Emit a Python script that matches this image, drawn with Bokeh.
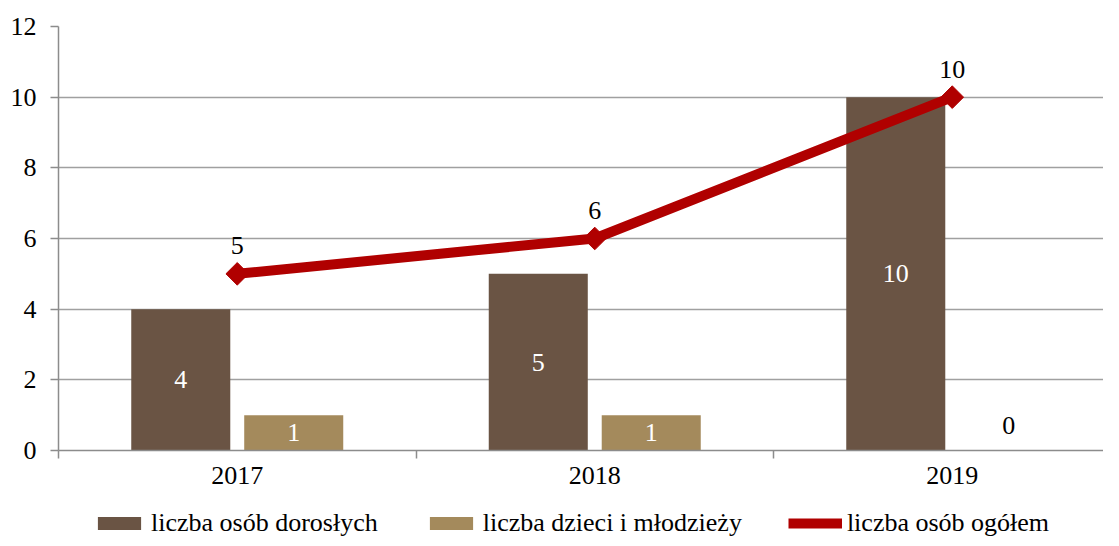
from bokeh.plotting import figure
from bokeh.layouts import column
from bokeh.models import ColumnDataSource, Range1d, FixedTicker, LabelSet, Legend, LegendItem
from bokeh.transform import dodge
from bokeh.embed import file_html
from bokeh.resources import INLINE
import numpy as np

years = ["2017", "2018", "2019"]
adults = [4, 5, 10]
children = [1, 1, 0]
total = [5, 6, 10]
series_names = ["liczba osób dorosłych", "liczba dzieci i młodzieży", "liczba osób ogółem"]

FONT = "Liberation Serif"
ADULT_C = "#6A5444"
CHILD_C = "#A48A5C"
LINE_C = "#B00000"
xpos = [i + 0.5 for i in range(len(years))]

src = ColumnDataSource(dict(
    x=xpos,
    adults=adults,
    children=children,
    total=total,
    adults_y=[v / 2 for v in adults],
    children_y=[v / 2 if v > 0 else 0 for v in children],
    children_off=[0 if v > 0 else 25 for v in children],
    children_col=["white" if v > 0 else "black" for v in children],
    adults_txt=[str(v) for v in adults],
    children_txt=[str(v) for v in children],
    total_txt=[str(v) for v in total],
))

p = figure(width=1103, height=496, output_backend="svg", toolbar_location=None,
           x_range=Range1d(0, 1045 / 357.5), y_range=Range1d(0, 12),
           min_border_left=58, min_border_right=0, min_border_top=26, min_border_bottom=46)
p.outline_line_color = None
p.background_fill_color = "white"

b1 = p.vbar(x=dodge("x", -0.158, range=p.x_range), top="adults", width=0.277, source=src,
            fill_color=ADULT_C, line_color=None)
b2 = p.vbar(x=dodge("x", 0.158, range=p.x_range), top="children", width=0.277, source=src,
            fill_color=CHILD_C, line_color=None)
ln = p.line(x="x", y="total", source=src, line_color=LINE_C, line_width=10)
mk = p.scatter(x="x", y="total", source=src, marker="square", size=16, angle=np.pi / 4,
               fill_color=LINE_C, line_color=LINE_C)

p.add_layout(LabelSet(x=dodge("x", -0.158, range=p.x_range), y="adults_y", text="adults_txt", source=src,
                      text_color="white", text_align="center", text_baseline="middle",
                      text_font=FONT, text_font_size="26px"))
p.add_layout(LabelSet(x=dodge("x", 0.158, range=p.x_range), y="children_y", y_offset="children_off",
                      text="children_txt", source=src,
                      text_color="children_col", text_align="center", text_baseline="middle",
                      text_font=FONT, text_font_size="26px"))
p.add_layout(LabelSet(x="x", y="total", y_offset=28, text="total_txt", source=src,
                      text_color="black", text_align="center", text_baseline="middle",
                      text_font=FONT, text_font_size="26px"))

# axes
p.yaxis.ticker = FixedTicker(ticks=[0, 2, 4, 6, 8, 10, 12])
p.yaxis.axis_line_color = "#8C8C8C"
p.yaxis.axis_line_width = 1.5
p.yaxis.major_tick_line_color = "#8C8C8C"
p.yaxis.major_tick_line_width = 1.5
p.yaxis.major_tick_out = 8
p.yaxis.major_tick_in = 0
p.yaxis.minor_tick_line_color = None
p.yaxis.major_label_text_font = FONT
p.yaxis.major_label_text_font_size = "26px"
p.yaxis.major_label_text_color = "black"
p.yaxis.major_label_standoff = 14

p.xaxis.ticker = FixedTicker(ticks=xpos, minor_ticks=[0, 1, 2, 3])
p.xaxis.major_label_overrides = {x: y for x, y in zip(xpos, years)}
p.xaxis.axis_line_color = "#8C8C8C"
p.xaxis.axis_line_width = 1.5
p.xaxis.major_tick_line_color = None
p.xaxis.major_tick_out = 8
p.xaxis.major_tick_in = 0
p.xaxis.minor_tick_line_color = "#8C8C8C"
p.xaxis.minor_tick_line_width = 1.5
p.xaxis.minor_tick_out = 8
p.xaxis.minor_tick_in = 0
p.xaxis.major_label_text_font = FONT
p.xaxis.major_label_text_font_size = "26px"
p.xaxis.major_label_text_color = "black"
p.xaxis.major_label_standoff = 8

p.xgrid.grid_line_color = None
p.ygrid.grid_line_color = "#A0A0A0"
p.ygrid.grid_line_width = 1.5

# legend in a separate strip below (glyphs placed out of view; only the legend shows)
leg = figure(width=1103, height=42, output_backend="svg", toolbar_location=None,
             x_range=Range1d(0, 1), y_range=Range1d(0, 1),
             x_axis_type=None, y_axis_type=None,
             min_border_left=0, min_border_right=0, min_border_top=0, min_border_bottom=0)
leg.outline_line_color = None
leg.grid.visible = False
lsrc = ColumnDataSource(dict(x=[5, 6], y=[5, 6]))
r1 = leg.vbar(x="x", top="y", width=0.1, source=lsrc, fill_color=ADULT_C, line_color=None)
r2 = leg.vbar(x="x", top="y", width=0.1, source=lsrc, fill_color=CHILD_C, line_color=None)
r3 = leg.line(x="x", y="y", source=lsrc, line_color=LINE_C, line_width=10)
r4 = leg.scatter(x="x", y="y", source=lsrc, marker="square", size=16, angle=np.pi / 4,
                 fill_color=LINE_C, line_color=LINE_C)

legend = Legend(items=[
    LegendItem(label=series_names[0], renderers=[r1]),
    LegendItem(label=series_names[1], renderers=[r2]),
    LegendItem(label=series_names[2], renderers=[r3, r4]),
], orientation="horizontal", location=(34, 0),
    label_text_font=FONT, label_text_font_size="26px", label_text_color="black",
    glyph_width=54, glyph_height=16, label_standoff=5, spacing=46,
    padding=0, margin=0, border_line_color=None, background_fill_alpha=0)
leg.add_layout(legend, "center")

layout = column(p, leg, spacing=0)
open("out.html", "w").write(file_html(layout, INLINE))
